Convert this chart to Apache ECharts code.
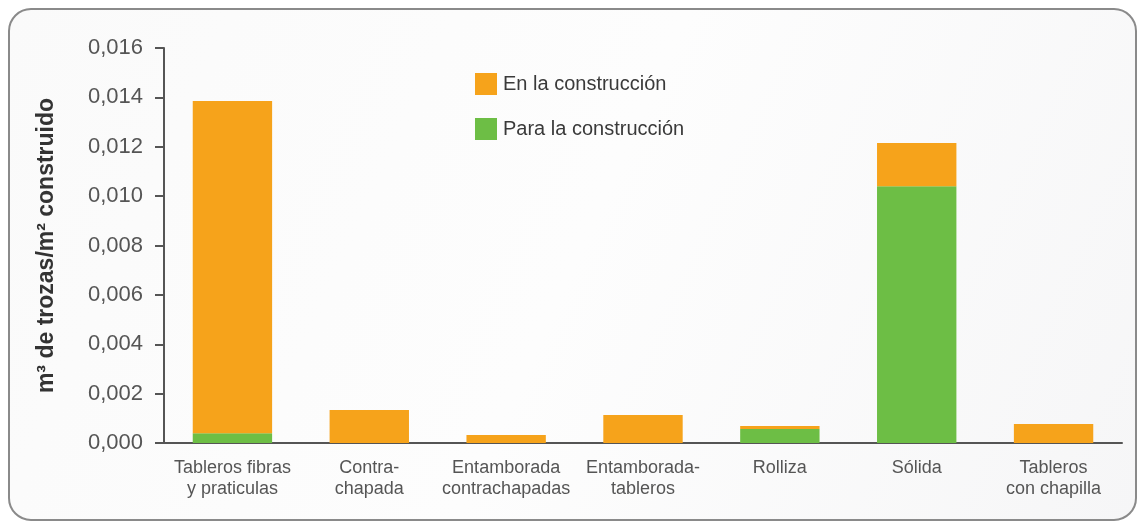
<!DOCTYPE html>
<html>
<head>
<meta charset="utf-8">
<script src="https://cdn.jsdelivr.net/npm/echarts@6/dist/echarts.min.js"></script>
<style>
html,body{margin:0;padding:0;background:#fff;}
#chart{width:1140px;height:525px;}
</style>
</head>
<body>
<div id="chart"></div>
<script>
var categories = ['Tableros fibras\ny praticulas', 'Contra-\nchapada', 'Entamborada\ncontrachapadas', 'Entamborada-\ntableros', 'Rolliza', 'Sólida', 'Tableros\ncon chapilla'];
var paraConstruccion = [0.0004, 0, 0, 0, 0.00057, 0.0104, 0];
var enConstruccion = [0.01345, 0.00134, 0.00032, 0.00113, 0.00012, 0.00175, 0.00077];
var seriesNames = ['En la construcción', 'Para la construcción'];
var yTicks = {min: 0, max: 0.016, interval: 0.002};

var chart = echarts.init(document.getElementById('chart'), null, {renderer: 'canvas'});
var font = 'Liberation Sans, Arial, sans-serif';
chart.setOption({
  backgroundColor: '#ffffff',
  animation: false,
  graphic: [{
    type: 'rect',
    z: -10,
    shape: {x: 9, y: 9, width: 1127, height: 511, r: 22},
    style: {
      fill: new echarts.graphic.LinearGradient(0, 0, 1, 1, [
        {offset: 0, color: '#fafafa'},
        {offset: 0.5, color: '#fdfdfd'},
        {offset: 1, color: '#f6f6f7'}
      ]),
      stroke: '#8a8a8a',
      lineWidth: 2
    }
  }],
  grid: {left: 164, right: 18, top: 48, bottom: 82},
  legend: {
    data: seriesNames,
    orient: 'vertical',
    left: 470,
    top: 68,
    itemWidth: 22,
    itemHeight: 22,
    itemGap: 23,
    icon: 'rect',
    textStyle: {fontFamily: font, fontSize: 20, color: '#3a3a3a', padding: [0, 0, 0, 1]}
  },
  xAxis: {
    type: 'category',
    data: categories,
    axisLine: {lineStyle: {color: '#555', width: 2}},
    axisTick: {show: false},
    axisLabel: {fontFamily: font, fontSize: 18, color: '#555', lineHeight: 21, margin: 15, interval: 0}
  },
  yAxis: {
    type: 'value',
    min: yTicks.min,
    max: yTicks.max,
    interval: yTicks.interval,
    name: 'm³ de trozas/m² construido',
    nameLocation: 'middle',
    nameGap: 106,
    nameRotate: 90,
    nameTextStyle: {fontFamily: font, fontSize: 23, fontWeight: 'bold', color: '#333'},
    axisLine: {show: true, lineStyle: {color: '#555', width: 2}},
    axisTick: {show: true, length: 9, lineStyle: {color: '#555', width: 2}},
    splitLine: {show: false},
    axisLabel: {
      fontFamily: font, fontSize: 22, color: '#555', margin: 21,
      formatter: function (v) { return v.toFixed(3).replace('.', ','); }
    }
  },
  series: [{
    name: seriesNames[1],
    type: 'bar',
    stack: 'total',
    data: paraConstruccion,
    barWidth: '58%',
    itemStyle: {color: '#6DBE45'}
  }, {
    name: seriesNames[0],
    type: 'bar',
    stack: 'total',
    data: enConstruccion,
    barWidth: '58%',
    itemStyle: {color: '#F6A31B'}
  }]
});
</script>
</body>
</html>
